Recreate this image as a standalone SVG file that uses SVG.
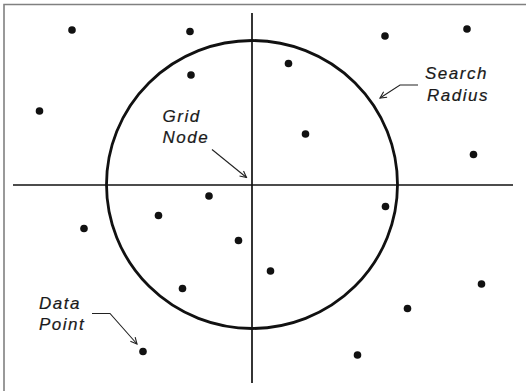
<svg xmlns="http://www.w3.org/2000/svg" width="528" height="391" viewBox="0 0 528 391">
<defs>
<style>
.frame{stroke:#808080;stroke-width:1.6;fill:none}
.axis{stroke:#111;stroke-width:1.7;fill:none}
.radius{stroke:#111;stroke-width:2.8;fill:none}
.lead{stroke:#222;stroke-width:1.1;fill:none}
.pt{fill:#111}
.lbl{font-family:"Liberation Sans",Arial,sans-serif;font-style:italic;font-size:17px;letter-spacing:1.5px;fill:#1a1a1a;stroke:#1a1a1a;stroke-width:0.2}
</style>
<marker id="ah" viewBox="0 0 10 10" refX="9" refY="5" markerWidth="8" markerHeight="8" markerUnits="userSpaceOnUse" orient="auto">
<path d="M1,1 L9,5 L1,9" fill="none" stroke="#222" stroke-width="1.4"/>
</marker>
</defs>
<rect width="528" height="391" fill="#fff"/>
<path class="frame" d="M4,391 V4.5 H526"/>
<g id="axes">
<line class="axis" x1="252" y1="13" x2="252" y2="383"/>
<line class="axis" x1="13" y1="185" x2="513" y2="185"/>
</g>
<g id="search-circle">
<ellipse class="radius" cx="252" cy="184.5" rx="145.5" ry="144"/>
</g>
<g id="data-points">
<circle class="pt" cx="72" cy="30" r="3.8"/>
<circle class="pt" cx="190" cy="31.5" r="3.8"/>
<circle class="pt" cx="385" cy="36" r="3.8"/>
<circle class="pt" cx="467" cy="29" r="3.8"/>
<circle class="pt" cx="191" cy="75" r="3.8"/>
<circle class="pt" cx="288.5" cy="63.5" r="3.8"/>
<circle class="pt" cx="39.5" cy="111" r="3.8"/>
<circle class="pt" cx="305.5" cy="134" r="3.8"/>
<circle class="pt" cx="473.5" cy="154.5" r="3.8"/>
<circle class="pt" cx="209" cy="196" r="3.8"/>
<circle class="pt" cx="158.5" cy="215.5" r="3.8"/>
<circle class="pt" cx="84" cy="228.5" r="3.8"/>
<circle class="pt" cx="238.5" cy="240.5" r="3.8"/>
<circle class="pt" cx="385.5" cy="206.5" r="3.8"/>
<circle class="pt" cx="270.5" cy="271" r="3.8"/>
<circle class="pt" cx="182.5" cy="288.5" r="3.8"/>
<circle class="pt" cx="481.5" cy="284" r="3.8"/>
<circle class="pt" cx="407.5" cy="308.5" r="3.8"/>
<circle class="pt" cx="143" cy="351.5" r="3.8"/>
<circle class="pt" cx="357.5" cy="355" r="3.8"/>
</g>
<g id="connectors">
<polyline class="lead" points="418,85 400,85 380,98" marker-end="url(#ah)"/>
<line class="lead" x1="212" y1="149.5" x2="246.5" y2="177.5" marker-end="url(#ah)"/>
<polyline class="lead" points="92,313.5 110,313.5 137,344" marker-end="url(#ah)"/>
</g>
<g id="label-search-radius">
<text class="lbl" x="425" y="78.5">Search</text>
<text class="lbl" x="427" y="100.5">Radius</text>
</g>
<g id="label-grid-node">
<text class="lbl" x="162.5" y="121.5">Grid</text>
<text class="lbl" x="162.5" y="143">Node</text>
</g>
<g id="label-data-point">
<text class="lbl" x="39" y="308.5">Data</text>
<text class="lbl" x="39" y="329.5">Point</text>
</g>
</svg>
